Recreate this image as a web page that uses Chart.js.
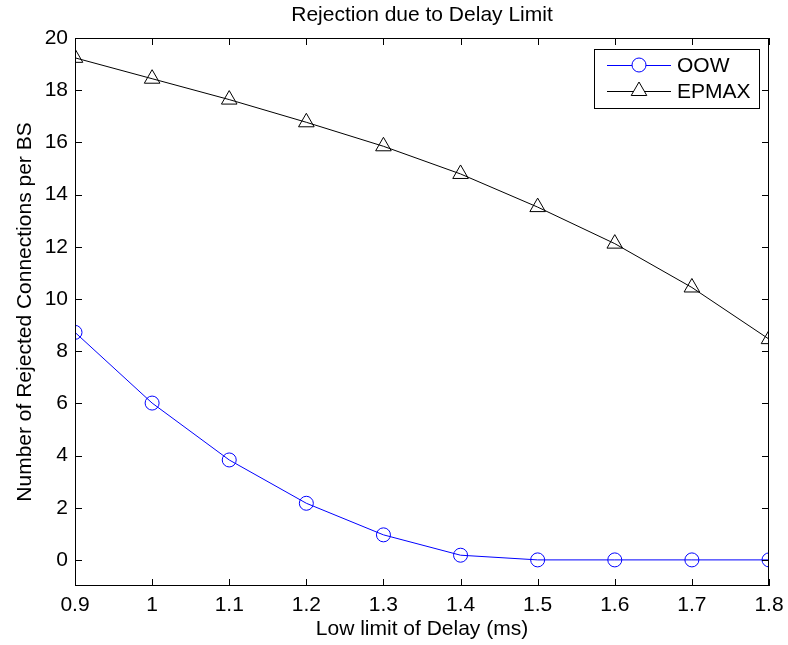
<!DOCTYPE html>
<html>
<head>
<meta charset="utf-8">
<script src="https://cdn.jsdelivr.net/npm/chart.js@4.4.1/dist/chart.umd.min.js"></script>
<style>
  html, body { margin: 0; padding: 0; background: #fff; }
  #wrap { width: 788px; height: 645px; position: relative; }
</style>
</head>
<body>
<div id="wrap"><canvas id="chart"></canvas></div>
<script>
const delay = [0.9, 1.0, 1.1, 1.2, 1.3, 1.4, 1.5, 1.6, 1.7, 1.8];
const oow = [8.72, 6.01, 3.83, 2.17, 0.96, 0.18, 0, 0, 0, 0];
const epmax = [19.24, 18.44, 17.64, 16.77, 15.85, 14.79, 13.52, 12.12, 10.44, 8.46];
const chartTitle = "Rejection due to Delay Limit";

const FONT = "'Liberation Sans', Arial, Helvetica, sans-serif";

function toPoints(xs, ys) {
  return xs.map((x, i) => ({ x: x, y: ys[i] }));
}

// title centred over the plot box, not the whole canvas (like matlab)
const plotTitle = {
  id: "plotTitle",
  afterDraw(chart) {
    const ctx = chart.ctx;
    const a = chart.chartArea;
    ctx.save();
    ctx.fillStyle = "#000";
    ctx.font = "21px " + FONT;
    ctx.textAlign = "center";
    ctx.textBaseline = "middle";
    ctx.fillText(chartTitle, (a.left + a.right) / 2, 15);
    ctx.restore();
  },
};

// matlab-style box with inward ticks on all four sides
const boxTicks = {
  id: "boxTicks",
  afterDraw(chart) {
    const ctx = chart.ctx;
    const a = chart.chartArea;
    const len = 7;
    ctx.save();
    ctx.strokeStyle = "#000";
    ctx.lineWidth = 1;
    ctx.strokeRect(a.left + 0.5, a.top + 0.5, a.right - a.left - 1, a.bottom - a.top - 1);
    ctx.beginPath();
    const xs = chart.scales.x;
    xs.ticks.forEach((t) => {
      const px = Math.round(xs.getPixelForValue(t.value)) + 0.5;
      ctx.moveTo(px, a.bottom);
      ctx.lineTo(px, a.bottom - len);
      ctx.moveTo(px, a.top);
      ctx.lineTo(px, a.top + len);
    });
    const ys = chart.scales.y;
    ys.ticks.forEach((t) => {
      const py = Math.round(ys.getPixelForValue(t.value)) + 0.5;
      ctx.moveTo(a.left, py);
      ctx.lineTo(a.left + len, py);
      ctx.moveTo(a.right, py);
      ctx.lineTo(a.right - len, py);
    });
    ctx.stroke();
    ctx.restore();
  },
};

// legend box like matlab: line sample with marker in the middle
const boxLegend = {
  id: "boxLegend",
  afterDraw(chart) {
    const ctx = chart.ctx;
    const a = chart.chartArea;
    const w = 165, h = 59;
    const x0 = a.right - 10 - w;
    const y0 = a.top + 11;
    ctx.save();
    ctx.fillStyle = "#fff";
    ctx.fillRect(x0, y0, w, h);
    ctx.strokeStyle = "#000";
    ctx.lineWidth = 1;
    ctx.strokeRect(x0 + 0.5, y0 + 0.5, w, h);
    ctx.font = "21px " + FONT;
    ctx.textBaseline = "middle";
    chart.data.datasets.forEach((ds, i) => {
      const cy = y0 + 16 + i * 26;
      const lx1 = x0 + 13, lx2 = x0 + 77;
      ctx.strokeStyle = ds.borderColor;
      ctx.lineWidth = 1;
      ctx.beginPath();
      ctx.moveTo(lx1, cy + 0.5);
      ctx.lineTo(lx2, cy + 0.5);
      ctx.stroke();
      ctx.fillStyle = "#fff";
      Chart.helpers.drawPoint(ctx, {
        pointStyle: ds.pointStyle,
        radius: ds.pointRadius,
        borderWidth: 1,
      }, (lx1 + lx2) / 2, cy);
      ctx.fillStyle = "#000";
      ctx.fillText(ds.label, x0 + 83, cy + 1);
    });
    ctx.restore();
  },
};

new Chart(document.getElementById("chart"), {
  type: "line",
  data: {
    datasets: [
      {
        label: "OOW",
        data: toPoints(delay, oow),
        borderColor: "#0000ff",
        backgroundColor: "rgba(0,0,0,0)",
        borderWidth: 1,
        pointStyle: "circle",
        pointRadius: 7,
        pointBorderWidth: 1,
        pointBackgroundColor: "rgba(0,0,0,0)",
        pointBorderColor: "#0000ff",
        tension: 0,
      },
      {
        label: "EPMAX",
        data: toPoints(delay, epmax),
        borderColor: "#000000",
        backgroundColor: "rgba(0,0,0,0)",
        borderWidth: 1,
        pointStyle: "triangle",
        pointRadius: 9,
        pointBorderWidth: 1,
        pointBackgroundColor: "rgba(0,0,0,0)",
        pointBorderColor: "#000000",
        tension: 0,
      },
    ],
  },
  options: {
    responsive: true,
    maintainAspectRatio: false,
    animation: false,
    layout: { padding: { top: 38, right: 19, left: 0, bottom: 0 } },
    plugins: {
      legend: { display: false },
      tooltip: { enabled: false },
      title: { display: false },
    },
    scales: {
      x: {
        type: "linear",
        min: 0.9,
        max: 1.8,
        afterFit: (s) => {
          s.height = 59;
          s.paddingLeft = 0;
          s.paddingRight = 0;
        },
        ticks: {
          stepSize: 0.1,
          color: "#000",
          padding: 7,
          maxRotation: 0,
          font: { family: FONT, size: 21 },
          callback: (v) => String(Math.round(v * 10) / 10),
        },
        grid: { display: false, drawTicks: false },
        border: { display: false },
        title: {
          display: true,
          text: "Low limit of Delay (ms)",
          color: "#000",
          font: { family: FONT, size: 21 },
          padding: { top: 0, bottom: 3 },
        },
      },
      y: {
        min: -1,
        max: 20,
        afterFit: (s) => {
          s.width = 75;
          s.paddingTop = 0;
          s.paddingBottom = 0;
        },
        ticks: {
          stepSize: 2,
          color: "#000",
          padding: 7,
          font: { family: FONT, size: 21 },
          callback: (v) => (v % 2 === 0 ? String(v) : null),
        },
        afterBuildTicks: (s) => {
          s.ticks = s.ticks.filter((t) => t.value % 2 === 0);
        },
        grid: { display: false, drawTicks: false },
        border: { display: false },
        title: {
          display: true,
          text: "Number of Rejected Connections per BS",
          color: "#000",
          font: { family: FONT, size: 21 },
          padding: { top: 13, bottom: 0 },
        },
      },
    },
  },
  plugins: [plotTitle, boxTicks, boxLegend],
});
</script>
</body>
</html>
